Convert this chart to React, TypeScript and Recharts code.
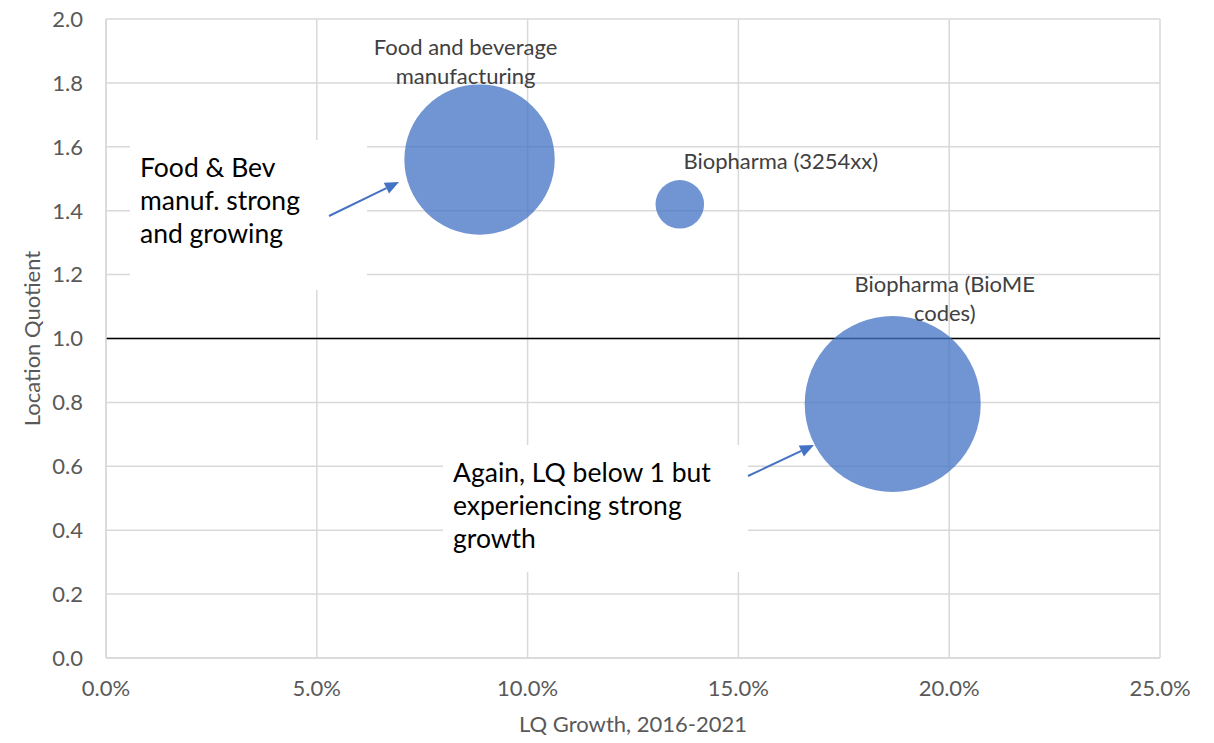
import {
  ScatterChart,
  Scatter,
  XAxis,
  YAxis,
  ZAxis,
  CartesianGrid,
  ReferenceLine,
  Label,
} from "recharts";

// industries shown as bubbles
const industries = [
  "Food and beverage manufacturing",
  "Biopharma (3254xx)",
  "Biopharma (BioME codes)",
];
// LQ growth 2016-2021, in percent
const lqGrowth = [8.86, 13.61, 18.66];
// location quotient
const locationQuotient = [1.56, 1.42, 0.795];
// bubble size (relative employment)
const bubbleSize = [7300, 760, 10000];

const xTicks = [0, 5, 10, 15, 20, 25];
const yTicks = [0, 0.2, 0.4, 0.6, 0.8, 1.0, 1.2, 1.4, 1.6, 1.8, 2.0];

const data = industries.map((name, i) => ({
  name,
  x: lqGrowth[i],
  y: locationQuotient[i],
  z: bubbleSize[i],
}));

const FONT = "Lato, 'Open Sans', sans-serif";
const W = 1214;
const H = 743;
const MAX_R = 88;
const TXT = 22;

// where each data label sits relative to its bubble centre
const labelLayout: Record<string, { dx: number; dy: number; lines: string[] }> = {
  "Food and beverage manufacturing": {
    dx: -14,
    dy: -114,
    lines: ["Food and beverage", "manufacturing"],
  },
  "Biopharma (3254xx)": { dx: 101, dy: -44, lines: ["Biopharma (3254xx)"] },
  "Biopharma (BioME codes)": {
    dx: 52,
    dy: -121,
    lines: ["Biopharma (BioME", "codes)"],
  },
};

function Bubble(props: any) {
  const { cx, cy, width, payload } = props;
  const r = width / 2;
  const lay = labelLayout[payload.name];
  return (
    <g>
      <circle cx={cx} cy={cy} r={r} fill="#4472C4" fillOpacity={0.76} />
      {lay && (
        <text
          x={cx + lay.dx}
          y={cy + lay.dy}
          textAnchor="middle"
          dominantBaseline="central"
          fill="#404040"
          fontSize={TXT}
          fontFamily={FONT}
        >
          {lay.lines.map((l, i) => (
            <tspan key={i} x={cx + lay.dx} dy={i === 0 ? 0 : 29}>
              {l}
            </tspan>
          ))}
        </text>
      )}
    </g>
  );
}

function Note({
  box,
  lines,
  arrow,
}: {
  box: [number, number, number, number];
  lines: string[];
  arrow: [number, number, number, number];
}) {
  const [x, y, w, h] = box;
  const [x1, y1, x2, y2] = arrow;
  const ang = Math.atan2(y2 - y1, x2 - x1);
  const L = 14;
  const Wd = 6;
  const bx = x2 - L * Math.cos(ang);
  const by = y2 - L * Math.sin(ang);
  const px = -Math.sin(ang) * Wd;
  const py = Math.cos(ang) * Wd;
  return (
    <g>
      <rect x={x} y={y} width={w} height={h} fill="#fff" />
      <text fontFamily={FONT} fontSize={26.5} fill="#000">
        {lines.map((l, i) => (
          <tspan key={i} x={x + 10} y={y + 37 + i * 33}>
            {l}
          </tspan>
        ))}
      </text>
      <line x1={x1} y1={y1} x2={bx} y2={by} stroke="#4472C4" strokeWidth={2} />
      <polygon
        points={`${x2},${y2} ${bx + px},${by + py} ${bx - px},${by - py}`}
        fill="#4472C4"
      />
    </g>
  );
}

export default function App() {
  return (
    <div
      style={{
        position: "absolute",
        left: 0,
        top: 0,
        width: W,
        height: H,
        background: "#fff",
      }}
    >
      <ScatterChart
        width={W}
        height={H}
        margin={{ top: 19, right: 54, bottom: 0, left: 0 }}
      >
        <CartesianGrid stroke="#d9d9d9" strokeWidth={1.5} />
        <XAxis
          type="number"
          dataKey="x"
          domain={[0, 25]}
          ticks={xTicks}
          interval={0}
          height={85}
          tickFormatter={(v) => v.toFixed(1) + "%"}
          tick={{ fill: "#595959", fontSize: TXT, fontFamily: FONT }}
          tickLine={false}
          tickSize={0}
          tickMargin={22}
          axisLine={{ stroke: "#d9d9d9", strokeWidth: 1.5 }}
        >
          <Label
            value="LQ Growth, 2016-2021"
            position="insideBottom"
            offset={11}
            fill="#595959"
            fontSize={TXT}
            fontFamily={FONT}
          />
        </XAxis>
        <YAxis
          type="number"
          dataKey="y"
          domain={[0, 2]}
          ticks={yTicks}
          interval={0}
          width={106}
          tickFormatter={(v) => v.toFixed(1)}
          tick={{ fill: "#595959", fontSize: TXT, fontFamily: FONT }}
          tickLine={false}
          tickSize={0}
          tickMargin={23}
          axisLine={{ stroke: "#d9d9d9", strokeWidth: 1.5 }}
        >
          <Label
            value="Location Quotient"
            angle={-90}
            position="insideLeft"
            offset={32}
            style={{ textAnchor: "middle" }}
            fill="#595959"
            fontSize={TXT}
            fontFamily={FONT}
          />
        </YAxis>
        <ZAxis
          type="number"
          dataKey="z"
          domain={[0, Math.max(...bubbleSize)]}
          range={[0, Math.PI * MAX_R * MAX_R]}
        />
        <ReferenceLine y={1} stroke="#000" strokeWidth={1.5} />
        <Scatter data={data} shape={Bubble} isAnimationActive={false} />
      </ScatterChart>
      <svg
        width={W}
        height={H}
        style={{ position: "absolute", left: 0, top: 0, pointerEvents: "none" }}
      >
        <Note
          box={[130, 140, 237, 150]}
          lines={["Food & Bev", "manuf. strong", "and growing"]}
          arrow={[329, 216, 399, 182]}
        />
        <Note
          box={[443, 445, 305, 127]}
          lines={["Again, LQ below 1 but", "experiencing strong", "growth"]}
          arrow={[748, 476, 814, 445]}
        />
      </svg>
    </div>
  );
}
